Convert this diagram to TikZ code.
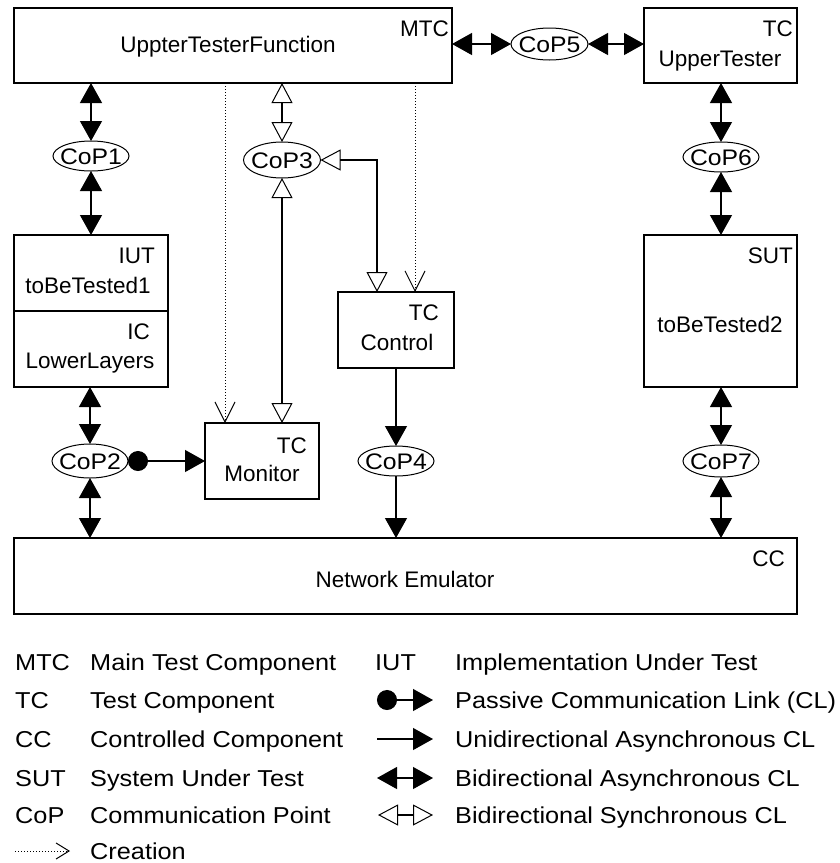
\documentclass[tikz,border=0pt]{standalone}
\usepackage{fontspec}
\setmainfont{Liberation Sans}
\newfontfamily\widefam[FakeStretch=1.1]{Liberation Sans}
\usetikzlibrary{arrows.meta,shapes.geometric}

\newcommand{\boxfont}{\fontsize{22.5}{26}\selectfont}
\newcommand{\copfont}{\widefam\fontsize{22.5}{26}\selectfont}
\newcommand{\legfont}{\widefam\fontsize{23}{27}\selectfont}

\tikzset{
  boxline/.style={line width=1.2pt},
  compbox/.style={draw, boxline, inner sep=0pt, outer sep=0pt},
  cop/.style={draw, ellipse, line width=1pt, inner xsep=-9pt, inner ysep=0pt, outer sep=0pt,
    text height=16pt, text depth=0pt,
    minimum width=76pt, minimum height=32pt, font=\copfont},
  lbl/.style={inner sep=0pt, text height=16pt, text depth=0pt, font=\boxfont},
  leg/.style={inner sep=0pt, anchor=west, text height=16.5pt, text depth=0pt, font=\legfont},
  conn/.style={line width=1.2pt},
  bia/.style={conn, {Triangle[length=20pt,width=22pt]}-{Triangle[length=20pt,width=22pt]}},
  bis/.style={conn, {Triangle[open,length=20pt,width=21pt,line width=1pt]}-{Triangle[open,length=20pt,width=21pt,line width=1pt]}},
  uni/.style={conn, -{Triangle[length=20pt,width=22pt]}},
  pas/.style={conn, {Circle[length=20pt]}-{Triangle[length=20pt,width=22pt]}},
  create/.style={line width=1pt, dotted, -{Straight Barb[length=20pt,width=20pt,line width=1pt]}},
  createkey/.style={line width=1pt, dotted, -{Straight Barb[length=13pt,width=16pt,line width=1pt]}},
}

\begin{document}
\begin{tikzpicture}[x=1pt,y=-1pt]
\useasboundingbox (0,0) rectangle (840,863);

% components
\node[compbox, minimum width=438pt, minimum height=75pt] (mtc) at (233,45.5) {};
\node[compbox, minimum width=153pt, minimum height=75pt] (ut) at (720.5,45.5) {};
\node[compbox, minimum width=154pt, minimum height=152pt] (iut) at (91,311) {};
\draw[boxline] (iut.west) -- (iut.east);
\node[compbox, minimum width=153pt, minimum height=152pt] (sut) at (720.5,311) {};
\node[compbox, minimum width=116pt, minimum height=76pt] (ctl) at (396,330) {};
\node[compbox, minimum width=114pt, minimum height=76pt] (mon) at (262,461) {};
\node[compbox, minimum width=783pt, minimum height=76pt] (ne) at (405.5,576) {};

% texts inside the components
\node[lbl] (t-mtc) at (228,44) {UppterTesterFunction};
\node[lbl, anchor=east] (k-mtc) at (449,28) {MTC};
\node[lbl, anchor=east] (k-ut) at (793,28) {TC};
\node[lbl] (t-ut) at (720,58) {UpperTester};
\node[lbl, anchor=east] (k-iut) at (155,255) {IUT};
\node[lbl] (t-iut) at (88,285) {toBeTested1};
\node[lbl, anchor=east] (k-ic) at (150,331) {IC};
\node[lbl] (t-ic) at (90,360) {LowerLayers};
\node[lbl, anchor=east] (k-sut) at (793,255) {SUT};
\node[lbl] (t-sut) at (720,324) {toBeTested2};
\node[lbl, anchor=east] (k-ctl) at (439,312) {TC};
\node[lbl] (t-ctl) at (397,342) {Control};
\node[lbl, anchor=east] (k-mon) at (307,445) {TC};
\node[lbl] (t-mon) at (262,473) {Monitor};
\node[lbl, anchor=east] (k-ne) at (785,558) {CC};
\node[lbl] (t-ne) at (405,579) {Network Emulator};

% communication points
\node[cop, minimum height=30pt] (cop1) at (91,156) {CoP1};
\node[cop, minimum height=34pt] (cop2) at (90,461) {CoP2};
\node[cop, minimum width=77pt, minimum height=36pt] (cop3) at (282,160) {CoP3};
\node[cop, minimum height=30pt] (cop4) at (396,461) {CoP4};
\node[cop, minimum width=77pt] (cop5) at (549.5,44) {CoP5};
\node[cop, minimum height=30pt] (cop6) at (721,157) {CoP6};
\node[cop] (cop7) at (721,461) {CoP7};

% helper columns for the vertical links
\coordinate (xcm) at (225,0);
\coordinate (xcc) at (415,0);
\coordinate (xsc) at (377,0);

% asynchronous links
\draw[bia] (mtc.south -| cop1) -- (cop1.north);
\draw[bia] (cop1.south) -- (cop1.south |- iut.north);
\draw[bia] (iut.south -| cop2) -- (cop2.north);
\draw[bia] (cop2.south) -- (cop2.south |- ne.north);
\draw[bia] (mtc.east |- cop5) -- (cop5.west);
\draw[bia] (cop5.east) -- (cop5.east -| ut.west);
\draw[bia] (ut.south -| cop6) -- (cop6.north);
\draw[bia] (cop6.south) -- (cop6.south |- sut.north);
\draw[bia] (sut.south -| cop7) -- (cop7.north);
\draw[bia] (cop7.south) -- (cop7.south |- ne.north);
\draw[uni] (ctl.south) -- (cop4.north);
\draw[uni] (cop4.south) -- (cop4.south |- ne.north);
\draw[pas] (cop2.east) -- (cop2.east -| mon.west);

% synchronous links
\draw[bis] (mtc.south -| cop3) -- (cop3.north);
\draw[bis] (cop3.south) -- (cop3.south |- mon.north);
\draw[bis] (cop3.east) -| (ctl.north -| xsc);

% creation
\draw[create] (mtc.south -| xcm) -- (mon.north -| xcm);
\draw[create] (mtc.south -| xcc) -- (ctl.north -| xcc);

% legend
\node[leg] (la1) at (15,662) {MTC};
\node[leg] (lb1) at (90,662) {Main Test Component};
\node[leg] (la2) at (15,700) {TC};
\node[leg] (lb2) at (90,700) {Test Component};
\node[leg] (la3) at (15,739) {CC};
\node[leg] (lb3) at (90,739) {Controlled Component};
\node[leg] (la4) at (15,778) {SUT};
\node[leg] (lb4) at (90,778) {System Under Test};
\node[leg] (la5) at (15,815) {CoP};
\node[leg] (lb5) at (90,815) {Communication Point};
\node[leg] (lb6) at (90,851) {Creation};
\node[leg] (lc1) at (375,662) {IUT};
\node[leg] (le1) at (455,662) {Implementation Under Test};
\node[leg] (le2) at (455,700) {Passive Communication Link (CL)};
\node[leg] (le3) at (455,739) {Unidirectional Asynchronous CL};
\node[leg] (le4) at (455,778) {Bidirectional Asynchronous CL};
\node[leg] (le5) at (455,815) {Bidirectional Synchronous CL};

\coordinate (s2a) at (377,700); \coordinate (s2b) at (433,700);
\coordinate (s3a) at (377,739); \coordinate (s3b) at (433,739);
\coordinate (s4a) at (377,778); \coordinate (s4b) at (433,778);
\coordinate (s5a) at (378,815); \coordinate (s5b) at (433,815);
\coordinate (s6a) at (15,851);  \coordinate (s6b) at (70,851);
\draw[pas] (s2a) -- (s2b);
\draw[uni] (s3a) -- (s3b);
\draw[bia] (s4a) -- (s4b);
\draw[bis] (s5a) -- (s5b);
\draw[createkey] (s6a) -- (s6b);
\end{tikzpicture}
\end{document}
